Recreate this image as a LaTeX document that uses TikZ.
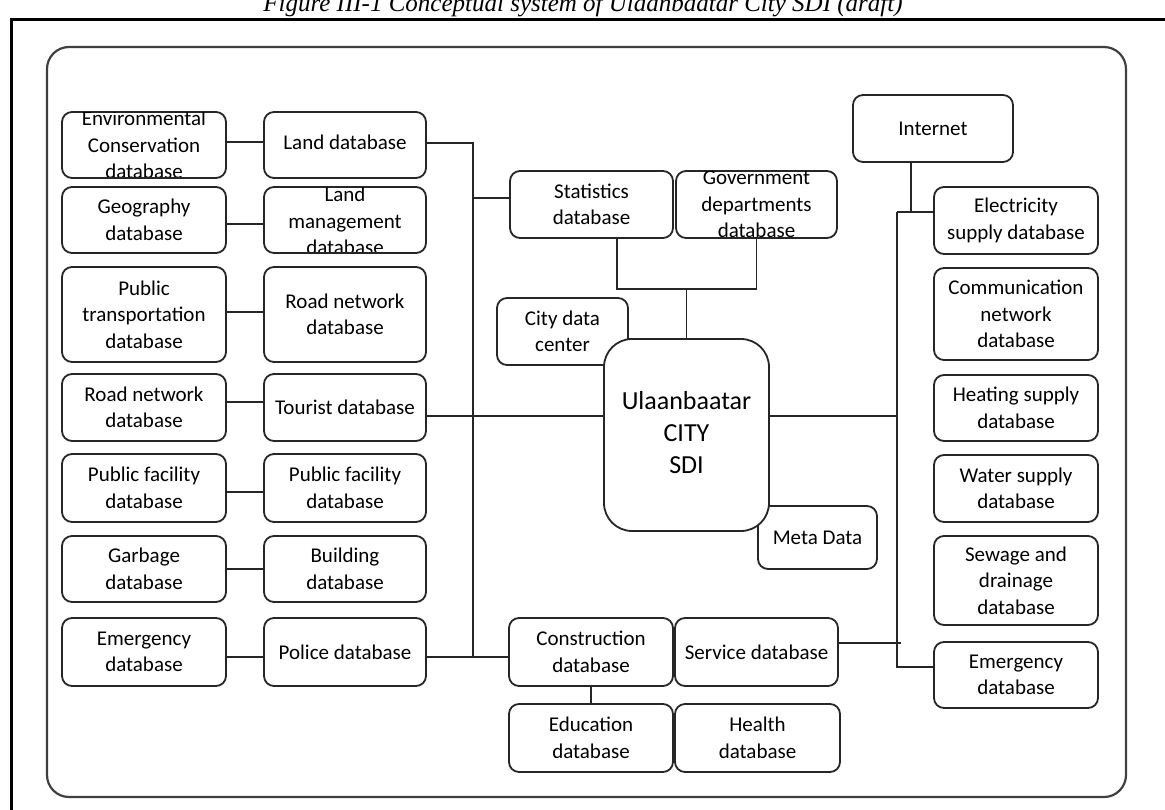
\documentclass[tikz,border=0pt]{standalone}
\usepackage{fontspec}
\setmainfont{Carlito}
\newfontfamily\titlefont{Liberation Serif}
\newcommand\mkbox[6][]{%
  \node[box,#1,minimum width={(#4-#2)*1pt},minimum height={(#5-#3)*1pt}] (#6) at ({(#2+#4)/2},{(#3+#5)/2}) {};}
\begin{document}
\begin{tikzpicture}[x=1pt,y=-1pt,
  box/.style={draw=black!85,line width=1.8pt,rounded corners=10pt,fill=white,inner sep=0pt,outer sep=0pt},
  lbl/.style={align=center,font=\fontsize{21}{26.5}\selectfont,inner sep=0pt,text=black},
  big/.style={align=center,font=\fontsize{26}{32}\selectfont,inner sep=0pt,text=black},
  conn/.style={draw=black!85,line width=1.8pt},
  frame/.style={draw=black,line width=3pt},
  outer/.style={draw=black!75,line width=2.2pt,rounded corners=22pt}]
\useasboundingbox (0,0) rectangle (1165,810);
% title (partly above the page) and page frame
\node[font=\titlefont\itshape\fontsize{25}{30}\selectfont,anchor=base,inner sep=0pt] (title) at (583,12) {Figure III-1 Conceptual system of Ulaanbaatar City SDI (draft)};
\draw[frame] (11,815) -- (11,20) -- (1170,20);
\draw[outer] (47,47) rectangle (1126,797);
% left columns
\mkbox{62}{112}{226}{178}{env}
\mkbox{264}{112}{426}{178}{land}
\mkbox{62}{187}{226}{253}{geo}
\mkbox{264}{187}{426}{253}{landm}
\mkbox{62}{267}{226}{362}{ptrans}
\mkbox{264}{267}{426}{362}{roadA}
\mkbox{62}{374}{226}{441}{roadB}
\mkbox{264}{374}{426}{441}{tourist}
\mkbox{62}{454}{226}{522}{pfacA}
\mkbox{264}{454}{426}{522}{pfacB}
\mkbox{62}{536}{226}{602}{garb}
\mkbox{264}{536}{426}{602}{build}
\mkbox{62}{618}{226}{686}{emergA}
\mkbox{264}{618}{426}{686}{police}
% centre
\mkbox{510}{171}{673}{238}{stats}
\mkbox{676}{171}{837}{238}{gov}
\mkbox{497}{298}{628}{365}{city}
\mkbox{758}{506}{877}{569}{meta}
\mkbox[rounded corners=28pt]{604}{339}{769}{531}{sdi}
\mkbox{509}{618}{673}{686}{constr}
\mkbox{675}{618}{838}{686}{service}
\mkbox{509}{704}{673}{772}{edu}
\mkbox{675}{704}{840}{772}{health}
% right
\mkbox{853}{95}{1013}{162}{internet}
\mkbox{934}{187}{1098}{254}{elec}
\mkbox{934}{268}{1098}{360}{comm}
\mkbox{934}{375}{1098}{441}{heat}
\mkbox{934}{455}{1098}{522}{water}
\mkbox{934}{536}{1098}{625}{sewage}
\mkbox{934}{642}{1098}{708}{emergB}
% labels (clipped where the text overflows its box)
\begin{scope}
\clip ([xshift=1pt,yshift=-1pt]env.north west) rectangle ([xshift=-1pt,yshift=1pt]env.south east);
\node[lbl] (tenv) at (env) {Environmental\\Conservation\\database};
\end{scope}
\begin{scope}
\clip ([xshift=1pt,yshift=-1pt]landm.north west) rectangle ([xshift=-1pt,yshift=1pt]landm.south east);
\node[lbl] (tlandm) at ([yshift=-1pt]landm) {Land\\management\\database};
\end{scope}
\begin{scope}
\clip ([xshift=1pt,yshift=-1pt]gov.north west) rectangle ([xshift=-1pt,yshift=1pt]gov.south east);
\node[lbl] (tgov) at (gov) {Government\\departments\\database};
\end{scope}
\node[lbl] (tland) at ([yshift=3pt]land) {Land database};
\node[lbl] (tgeo) at (geo) {Geography\\database};
\node[lbl] (tptrans) at (ptrans) {Public\\transportation\\database};
\node[lbl] (troadA) at (roadA) {Road network\\database};
\node[lbl] (troadB) at (roadB) {Road network\\database};
\node[lbl] (ttour) at (tourist) {Tourist database};
\node[lbl] (tpfacA) at (pfacA) {Public facility\\database};
\node[lbl] (tpfacB) at (pfacB) {Public facility\\database};
\node[lbl] (tgarb) at (garb) {Garbage\\database};
\node[lbl] (tbuild) at (build) {Building\\database};
\node[lbl] (temA) at (emergA) {Emergency\\database};
\node[lbl] (tpol) at (police) {Police database};
\node[lbl] (tstats) at (stats) {Statistics\\database};
\node[lbl] (tcity) at (city) {City data\\center};
\node[big] (tsdi) at ([yshift=2pt]sdi) {Ulaanbaatar\\CITY\\SDI};
\node[lbl] (tmeta) at (meta) {Meta Data};
\node[lbl] (tconstr) at (constr) {Construction\\database};
\node[lbl] (tserv) at (service) {Service database};
\node[lbl] (tedu) at (edu) {Education\\database};
\node[lbl] (thealth) at (health) {Health\\database};
\node[lbl] (tint) at (internet) {Internet};
\node[lbl] (telec) at (elec) {Electricity\\supply database};
\node[lbl] (tcomm) at (comm) {Communication\\network\\database};
\node[lbl] (theat) at (heat) {Heating supply\\database};
\node[lbl] (twater) at (water) {Water supply\\database};
\node[lbl] (tsew) at (sewage) {Sewage and\\drainage\\database};
\node[lbl] (temB) at (emergB) {Emergency\\database};
% helper coordinates
\coordinate (bL) at (473,0);
\coordinate (bR) at (897,0);
\coordinate (hy) at (0,416);
\coordinate (sx) at (617,0);
\coordinate (sj) at (0,289);
\coordinate (ix) at (911,0);
\coordinate (ey) at (0,212);
% left pair connectors
\draw[conn] ([yshift=3pt]env.east) -- ([yshift=3pt]land.west);
\draw[conn] ([yshift=-4pt]geo.east) -- ([yshift=-4pt]landm.west);
\draw[conn] ([yshift=2.5pt]ptrans.east) -- ([yshift=2.5pt]roadA.west);
\draw[conn] ([yshift=5.5pt]roadB.east) -- ([yshift=5.5pt]tourist.west);
\draw[conn] ([yshift=-4pt]pfacA.east) -- ([yshift=-4pt]pfacB.west);
\draw[conn] (garb.east) -- (build.west);
\draw[conn] ([yshift=-5pt]emergA.east) -- ([yshift=-5pt]police.west);
% left bus
\draw[conn] ([yshift=2pt]land.east) -- ([yshift=2pt]land.east -| bL) -- ([yshift=-5pt]police.east -| bL);
\draw[conn] ([yshift=-5pt]police.east) -- ([yshift=-5pt]constr.west);
\draw[conn] ([yshift=6.5pt]stats.west -| bL) -- ([yshift=6.5pt]stats.west);
\draw[conn] (tourist.east |- hy) -- (sdi.west |- hy);
\draw[conn] (sdi.east |- hy) -- (bR |- hy);
% centre top
\draw[conn] (sx |- stats.south) -- (sx |- sj) -- (gov.south |- sj) -- (gov.south);
\draw[conn] (sdi.north |- sj) -- (sdi.north);
% right bus
\draw[conn] (ix |- internet.south) -- (ix |- ey);
\draw[conn] (bR |- ey) -- (elec.west |- ey);
\draw[conn] (bR |- ey) -- ([yshift=8pt]emergB.west -| bR) -- ([yshift=8pt]emergB.west);
\draw[conn] ([yshift=9pt]service.east) -- ([xshift=4pt,yshift=9pt]service.east -| bR);
% construction - education
\draw[conn] (constr.south) -- (edu.north);
\end{tikzpicture}
\end{document}
